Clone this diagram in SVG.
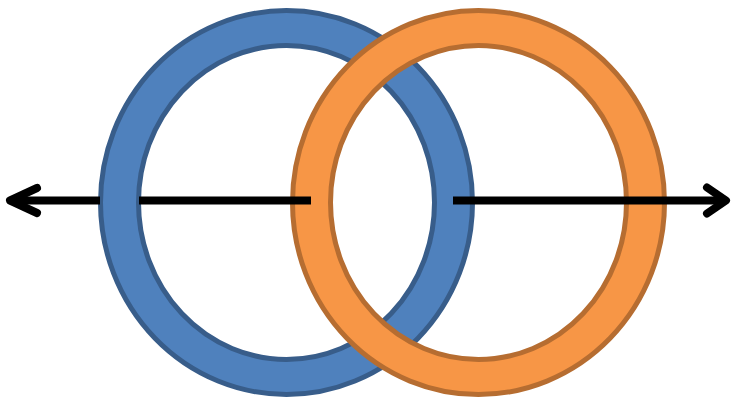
<svg xmlns="http://www.w3.org/2000/svg" width="731" height="401" viewBox="0 0 731 401">
<style>
.ring{fill-rule:evenodd;stroke-width:5}
.blue{fill:#4F81BD;stroke:#385D8A}
.orange{fill:#F79646;stroke:#B66D31}
.ln{fill:none;stroke:#000;stroke-width:8}
.head{fill:none;stroke:#000;stroke-width:8;stroke-linecap:round;stroke-linejoin:round}
</style>
<rect width="731" height="401" fill="#fff"/>
<g id="blue-ring">
<path class="ring blue" d="M100.5,202.5 a186,192 0 1,0 372,0 a186,192 0 1,0 -372,0 Z M138.5,202.5 a148,157 0 1,0 296,0 a148,157 0 1,0 -296,0 Z"/>
</g>
<g id="orange-ring">
<path class="ring orange" d="M292.5,202.5 a186,192 0 1,0 372,0 a186,192 0 1,0 -372,0 Z M330.5,202.5 a148,157 0 1,0 296,0 a148,157 0 1,0 -296,0 Z"/>
</g>
<g id="connectors">
<path class="ln" d="M10,200.5 H100 M139,200.5 H311"/>
<polyline class="head" points="37,188 10,200.5 37,213"/>
<path class="ln" d="M453,200.5 H726"/>
<polyline class="head" points="707,187.5 726,200.5 707,213.5"/>
</g>
</svg>
